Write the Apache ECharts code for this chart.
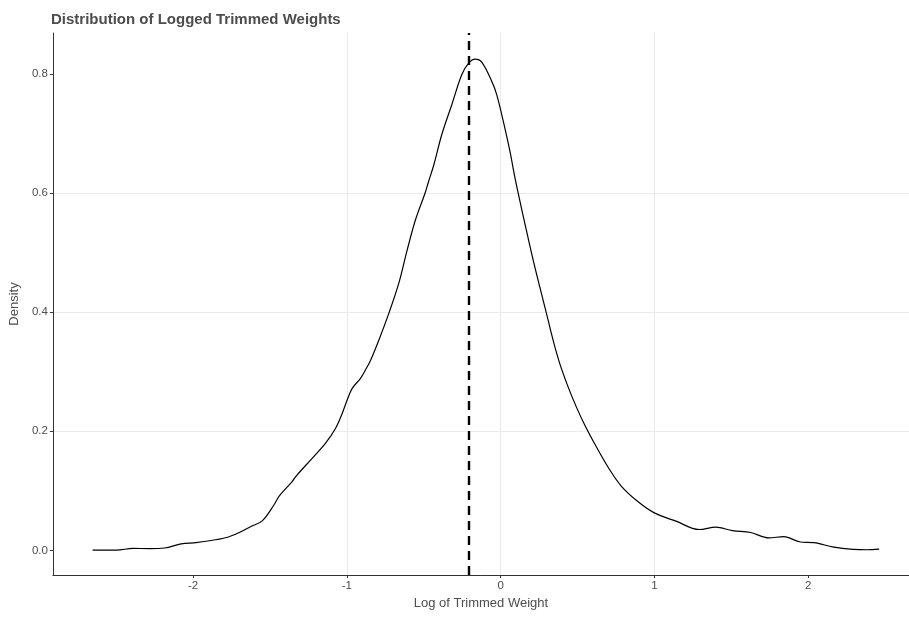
<!DOCTYPE html>
<html>
<head>
<meta charset="utf-8">
<script src="https://cdn.jsdelivr.net/npm/echarts@6/dist/echarts.min.js"></script>
<style>
html,body{margin:0;padding:0;background:#fff;}
#chart{width:909px;height:619px;}
</style>
</head>
<body>
<div id="chart"></div>
<script>
// Data
const logWeight = [-2.653, -2.498, -2.390, -2.282, -2.185, -2.077, -1.980, -1.872, -1.775, -1.699,
  -1.624, -1.548, -1.472, -1.440, -1.354, -1.332, -1.224, -1.138, -1.073, -1.030,
  -0.997, -0.965, -0.911, -0.879, -0.846, -0.792, -0.727, -0.663, -0.609, -0.555,
  -0.490, -0.468, -0.436, -0.382, -0.317, -0.253, -0.209, -0.166, -0.123, -0.058,
  -0.026, 0.017, 0.060, 0.093, 0.125, 0.168, 0.212, 0.255, 0.298, 0.341,
  0.384, 0.438, 0.492, 0.546, 0.622, 0.698, 0.784, 0.892, 0.999, 1.140,
  1.291, 1.399, 1.507, 1.626, 1.744, 1.841, 1.949, 2.036, 2.165, 2.295,
  2.381, 2.461];
const density = [0.0005, 0.0005, 0.0033, 0.003, 0.004, 0.011, 0.013, 0.017, 0.022, 0.030,
  0.040, 0.050, 0.077, 0.091, 0.116, 0.124, 0.155, 0.180, 0.205, 0.230,
  0.253, 0.272, 0.289, 0.303, 0.319, 0.353, 0.398, 0.448, 0.503, 0.554,
  0.601, 0.620, 0.646, 0.699, 0.749, 0.799, 0.818, 0.825, 0.820, 0.788,
  0.766, 0.721, 0.671, 0.626, 0.587, 0.537, 0.487, 0.442, 0.398, 0.353,
  0.314, 0.275, 0.241, 0.211, 0.174, 0.140, 0.108, 0.082, 0.063, 0.049,
  0.035, 0.039, 0.033, 0.030, 0.021, 0.023, 0.014, 0.013, 0.0055, 0.0017,
  0.001, 0.002];
const meanLine = -0.209;
const xTicks = [-2, -1, 0, 1, 2];
const yTicks = [0, 0.2, 0.4, 0.6, 0.8];

const textColor = '#4d4d4d';
const font = 'Liberation Sans, Arial, sans-serif';
const chart = echarts.init(document.getElementById('chart'), null, {renderer: 'canvas'});
chart.setOption({
  animation: false,
  backgroundColor: '#ffffff',
  title: {
    text: 'Distribution of Logged Trimmed Weights',
    left: 46, top: 7,
    textStyle: {fontFamily: font, fontSize: 15, fontWeight: 'bold', color: textColor}
  },
  grid: {left: 50, right: 0, top: 33, bottom: 44, containLabel: false},
  xAxis: {
    type: 'value',
    min: -2.911, max: 2.655,
    minInterval: 1, maxInterval: 1,
    name: 'Log of Trimmed Weight',
    nameLocation: 'middle', nameGap: 22,
    nameTextStyle: {fontFamily: font, fontSize: 13, color: textColor},
    axisLine: {show: true, onZero: false, lineStyle: {color: '#333333', width: 1}},
    axisTick: {show: true, length: 3, customValues: xTicks, lineStyle: {color: '#333333'}},
    axisLabel: {customValues: xTicks, margin: 5, fontFamily: font, fontSize: 11.5, color: textColor, formatter: v => String(v)},
    splitLine: {show: true, showMinLine: false, showMaxLine: false, lineStyle: {color: '#ebebeb', width: 1}}
  },
  yAxis: {
    type: 'value',
    min: -0.0414, max: 0.869,
    minInterval: 0.2, maxInterval: 0.2,
    name: 'Density',
    nameLocation: 'middle', nameGap: 30,
    nameTextStyle: {fontFamily: font, fontSize: 13, color: textColor},
    axisLine: {show: true, onZero: false, lineStyle: {color: '#333333', width: 1}},
    axisTick: {show: true, length: 3, customValues: yTicks, lineStyle: {color: '#333333'}},
    axisLabel: {customValues: yTicks, margin: 5, fontFamily: font, fontSize: 11.5, color: textColor, formatter: v => v.toFixed(1)},
    splitLine: {show: true, showMinLine: false, showMaxLine: false, lineStyle: {color: '#ebebeb', width: 1}}
  },
  series: [{
    type: 'line',
    data: logWeight.map((x, i) => [x, density[i]]),
    smooth: 0.35,
    showSymbol: false,
    symbol: 'none',
    lineStyle: {color: '#000000', width: 1.2},
    markLine: {
      silent: true,
      symbol: 'none',
      label: {show: false},
      lineStyle: {color: '#000000', width: 2.4, type: [9, 6]},
      data: [{xAxis: meanLine}]
    }
  }]
});
</script>
</body>
</html>
